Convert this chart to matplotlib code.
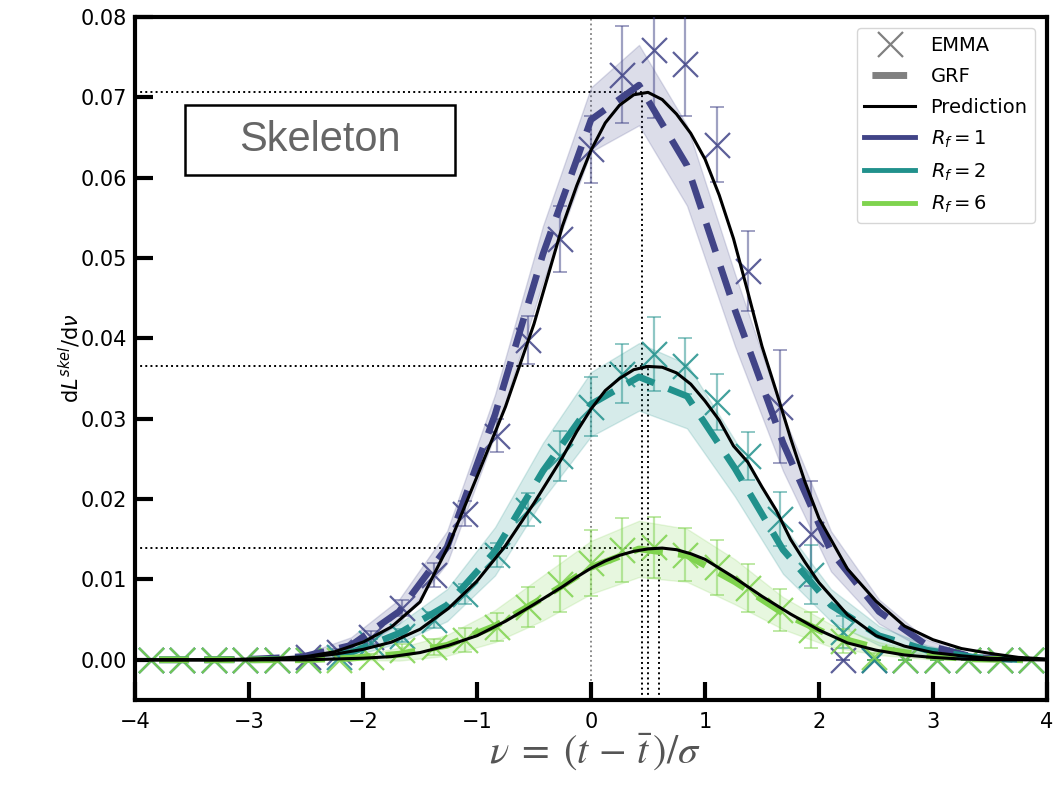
# dL^skel/dnu for the skeleton: EMMA measurements vs GRF and the prediction
import numpy as np
import matplotlib.pyplot as plt
from matplotlib.lines import Line2D
from matplotlib.patches import Rectangle

# smoothing scales and their colours
rf_labels = [r'$R_f = 1$', r'$R_f = 2$', r'$R_f = 6$']
rf_colors = ['#414487', '#21918c', '#7fd34e']

# EMMA: 29 bin centres on [-4, 4]
emma_edges = np.linspace(-4, 4, 30)
emma_x = 0.5 * (emma_edges[:-1] + emma_edges[1:])
emma_rf1 = [0, 0, 0, 0, 0, 0.0004, 0.001, 0.0028, 0.0064, 0.0105, 0.0182, 0.0279, 0.0398, 0.0524, 0.0635,
            0.0728, 0.0759, 0.0741, 0.0641, 0.0484, 0.0315, 0.0157, 0, 0, 0, 0, 0, 0, 0]
emma_rf1_err = [0, 0, 0, 0, 0, 0.0002, 0.0004, 0.0008, 0.001, 0.0015, 0.0016, 0.002, 0.003, 0.0041, 0.0042,
                0.006, 0.0085, 0.0065, 0.0047, 0.005, 0.007, 0.0065, 0, 0, 0, 0, 0, 0, 0]
emma_rf2 = [0, 0, 0, 0, 0, 0, 0.0003, 0.0021, 0.003, 0.005, 0.0082, 0.013, 0.0187, 0.0254, 0.0315,
            0.0356, 0.0381, 0.0366, 0.0321, 0.0254, 0.0175, 0.0106, 0.0035, 0, 0, 0, 0, 0, 0]
emma_rf2_err = [0, 0, 0, 0, 0, 0, 0.0002, 0.0005, 0.0008, 0.001, 0.0012, 0.0015, 0.0021, 0.0031, 0.0037,
                0.0037, 0.0046, 0.0035, 0.0035, 0.003, 0.0034, 0.0037, 0.002, 0, 0, 0, 0, 0, 0]
emma_rf6 = [0, 0, 0, 0, 0, 0, 0, 0.0004, 0.0012, 0.0016, 0.0025, 0.0041, 0.0066, 0.0094, 0.0121,
            0.0137, 0.014, 0.0131, 0.0115, 0.0089, 0.0062, 0.0037, 0.0023, 0.0004, 0, 0, 0, 0, 0]
emma_rf6_err = [0, 0, 0, 0, 0, 0, 0, 0.0003, 0.0008, 0.001, 0.0015, 0.0017, 0.0025, 0.0035, 0.0041,
                0.004, 0.0038, 0.0033, 0.0034, 0.003, 0.0026, 0.0022, 0.0015, 0.0004, 0, 0, 0, 0, 0]

# GRF: 19 bin centres on [-4, 4], mean and scatter
grf_edges = np.linspace(-4, 4, 20)
grf_x = 0.5 * (grf_edges[:-1] + grf_edges[1:])
grf_rf1 = [0, 0, 0.0001, 0.0004, 0.0018, 0.006, 0.014, 0.0305, 0.0505, 0.0672,
           0.0715, 0.0615, 0.0435, 0.027, 0.0135, 0.006, 0.0018, 0.0003, 0]
grf_rf1_std = [0, 0, 0.0001, 0.0003, 0.001, 0.0015, 0.002, 0.0025, 0.0035, 0.004,
               0.005, 0.005, 0.0045, 0.0035, 0.0025, 0.0015, 0.0007, 0.0002, 0]
grf_rf2 = [0, 0, 0, 0.0001, 0.0009, 0.0033, 0.0068, 0.0135, 0.0235, 0.0318,
           0.0352, 0.0328, 0.0238, 0.0137, 0.0068, 0.003, 0.0012, 0.0003, 0]
grf_rf2_std = [0, 0, 0, 0.0001, 0.0005, 0.0012, 0.002, 0.003, 0.0035, 0.004,
               0.0042, 0.004, 0.0035, 0.003, 0.002, 0.0012, 0.0006, 0.0002, 0]
grf_rf6 = [0, 0, 0, 0, 0.0002, 0.0007, 0.0018, 0.0042, 0.0077, 0.0115,
           0.0138, 0.013, 0.0097, 0.0058, 0.003, 0.0014, 0.0005, 0.0001, 0]
grf_rf6_std = [0, 0, 0, 0, 0.0002, 0.0008, 0.0013, 0.002, 0.0028, 0.0033,
               0.0035, 0.0033, 0.0028, 0.002, 0.0014, 0.0008, 0.0004, 0.0001, 0]

# theoretical prediction (finer near the peak)
pred_x = [-4, -3.75, -3.5, -3.25, -3, -2.75, -2.5, -2.25, -2, -1.75, -1.5, -1.25, -1, -0.75, -0.5,
          -0.25, -0.125, 0, 0.125, 0.25, 0.375, 0.5, 0.625, 0.75, 0.875, 1, 1.125, 1.25,
          1.375, 1.5, 1.625, 1.75, 1.875, 2, 2.25, 2.5, 2.75, 3, 3.25, 3.5, 3.75, 4]
pred_rf1 = [0, 0, 0, 0, 0.0001, 0.0002, 0.0004, 0.001, 0.0022, 0.0041, 0.0072, 0.0142, 0.0228, 0.0315, 0.0418,
            0.054, 0.059, 0.0634, 0.0668, 0.069, 0.0703, 0.0706, 0.0697, 0.0679, 0.0655, 0.0623, 0.0578, 0.0524,
            0.0458, 0.039, 0.0334, 0.0276, 0.0222, 0.0176, 0.0113, 0.0073, 0.0042, 0.0025, 0.0014, 0.0008,
            0.0003, 0.0001]
pred_rf2 = [0, 0, 0, 0, 0, 0.0001, 0.0003, 0.0007, 0.0013, 0.0022, 0.0038, 0.0064, 0.0098, 0.0142, 0.0195,
            0.0252, 0.0284, 0.0312, 0.0335, 0.035, 0.0361, 0.0365, 0.0364, 0.0357, 0.0343, 0.0322, 0.0298, 0.0266,
            0.0246, 0.0215, 0.0186, 0.015, 0.0122, 0.0096, 0.0056, 0.003, 0.0017, 0.0009, 0.0005, 0.0002,
            0.0001, 0]
pred_rf6 = [0, 0, 0, 0, 0, 0, 0, 0.0001, 0.0002, 0.0004, 0.0009, 0.0018, 0.003, 0.0048, 0.0069,
            0.0091, 0.0103, 0.0114, 0.0123, 0.013, 0.0135, 0.0138, 0.0139, 0.0137, 0.0132, 0.0125, 0.0114, 0.0103,
            0.0091, 0.0079, 0.0068, 0.0057, 0.0047, 0.0037, 0.0021, 0.0012, 0.0006, 0.0003, 0.0001, 0,
            0, 0]

# maxima of the predictions
peak_x = [0.45, 0.5, 0.6]
peak_y = [0.0707, 0.0365, 0.0139]

emma = [(emma_rf1, emma_rf1_err), (emma_rf2, emma_rf2_err), (emma_rf6, emma_rf6_err)]
grf = [(grf_rf1, grf_rf1_std), (grf_rf2, grf_rf2_std), (grf_rf6, grf_rf6_std)]
pred = [pred_rf1, pred_rf2, pred_rf6]

fig = plt.figure(figsize=(10.55, 8), dpi=100)
ax = fig.add_axes([0.128, 0.125, 0.8644, 0.854])
ymin = -0.005

ax.axvline(0, color='gray', ls=':', lw=1.3, zorder=1)
ax.vlines(peak_x, ymin, peak_y, colors='k', linestyles=':', lw=1.4, zorder=1)
ax.hlines(peak_y, -4, peak_x, colors='k', linestyles=':', lw=1.4, zorder=1)

for i in range(3):
    c = rf_colors[i]
    m, s = np.array(grf[i][0]), np.array(grf[i][1])
    ax.fill_between(grf_x, m - s, m + s, color=c, alpha=0.18, lw=1, zorder=2)
    y, e = emma[i]
    ax.errorbar(emma_x, y, yerr=e, fmt='none', ecolor=c, alpha=0.5, elinewidth=1.6,
                capsize=4.7, capthick=1.4, zorder=3)
    ax.plot(emma_x, y, ls='none', marker='x', color=c, ms=18, mew=1.6, alpha=0.85, zorder=4)
    ax.plot(grf_x, m, color=c, lw=4.8, ls=(0, (4.5, 2.3)), zorder=5)
    ax.plot(pred_x, pred[i], color='k', lw=2.2, zorder=6)

ax.set_xlim(-4, 4)
ax.set_ylim(ymin, 0.08)
ax.set_xticks(range(-4, 5))
ax.set_yticks(np.arange(0, 0.081, 0.01))
ax.yaxis.set_major_formatter(plt.FormatStrFormatter('%.2f'))
ax.tick_params(direction='in', length=13, width=3, labelsize=15)
ax.tick_params(axis='x', pad=9)
ax.tick_params(axis='y', pad=6)
for sp in ax.spines.values():
    sp.set_linewidth(3)

ax.set_ylabel(r'd$L^{skel}$/d$\nu$', fontsize=15, labelpad=-2)
fig.text(0.564, 0.06, r'$\nu \;=\; (t \,-\, \bar{t}\,)/\sigma$', fontsize=29, color='#555555',
         ha='center', va='center', math_fontfamily='stix')

ax.add_patch(Rectangle((0.0548, 0.769), 0.296, 0.102, transform=ax.transAxes,
                       fill=False, edgecolor='k', lw=1.8, zorder=7))
ax.text(0.2029, 0.82, 'Skeleton', transform=ax.transAxes, ha='center', va='center',
        fontsize=30, color='#666666', family='Liberation Sans', zorder=7)

handles = [Line2D([], [], ls='none', marker='x', color='gray', ms=18, mew=1.6),
           Line2D([], [], color='gray', lw=5, ls=(13.86, (5, 10))),
           Line2D([], [], color='k', lw=2.2)]
handles += [Line2D([], [], color=c, lw=3.5) for c in rf_colors]
labels = ['EMMA', 'GRF', 'Prediction'] + rf_labels
ax.legend(handles, labels, loc='upper right', fontsize=14, labelspacing=0.6,
          handlelength=2.6, borderaxespad=0.6)

fig.savefig('out.png', dpi=100)
